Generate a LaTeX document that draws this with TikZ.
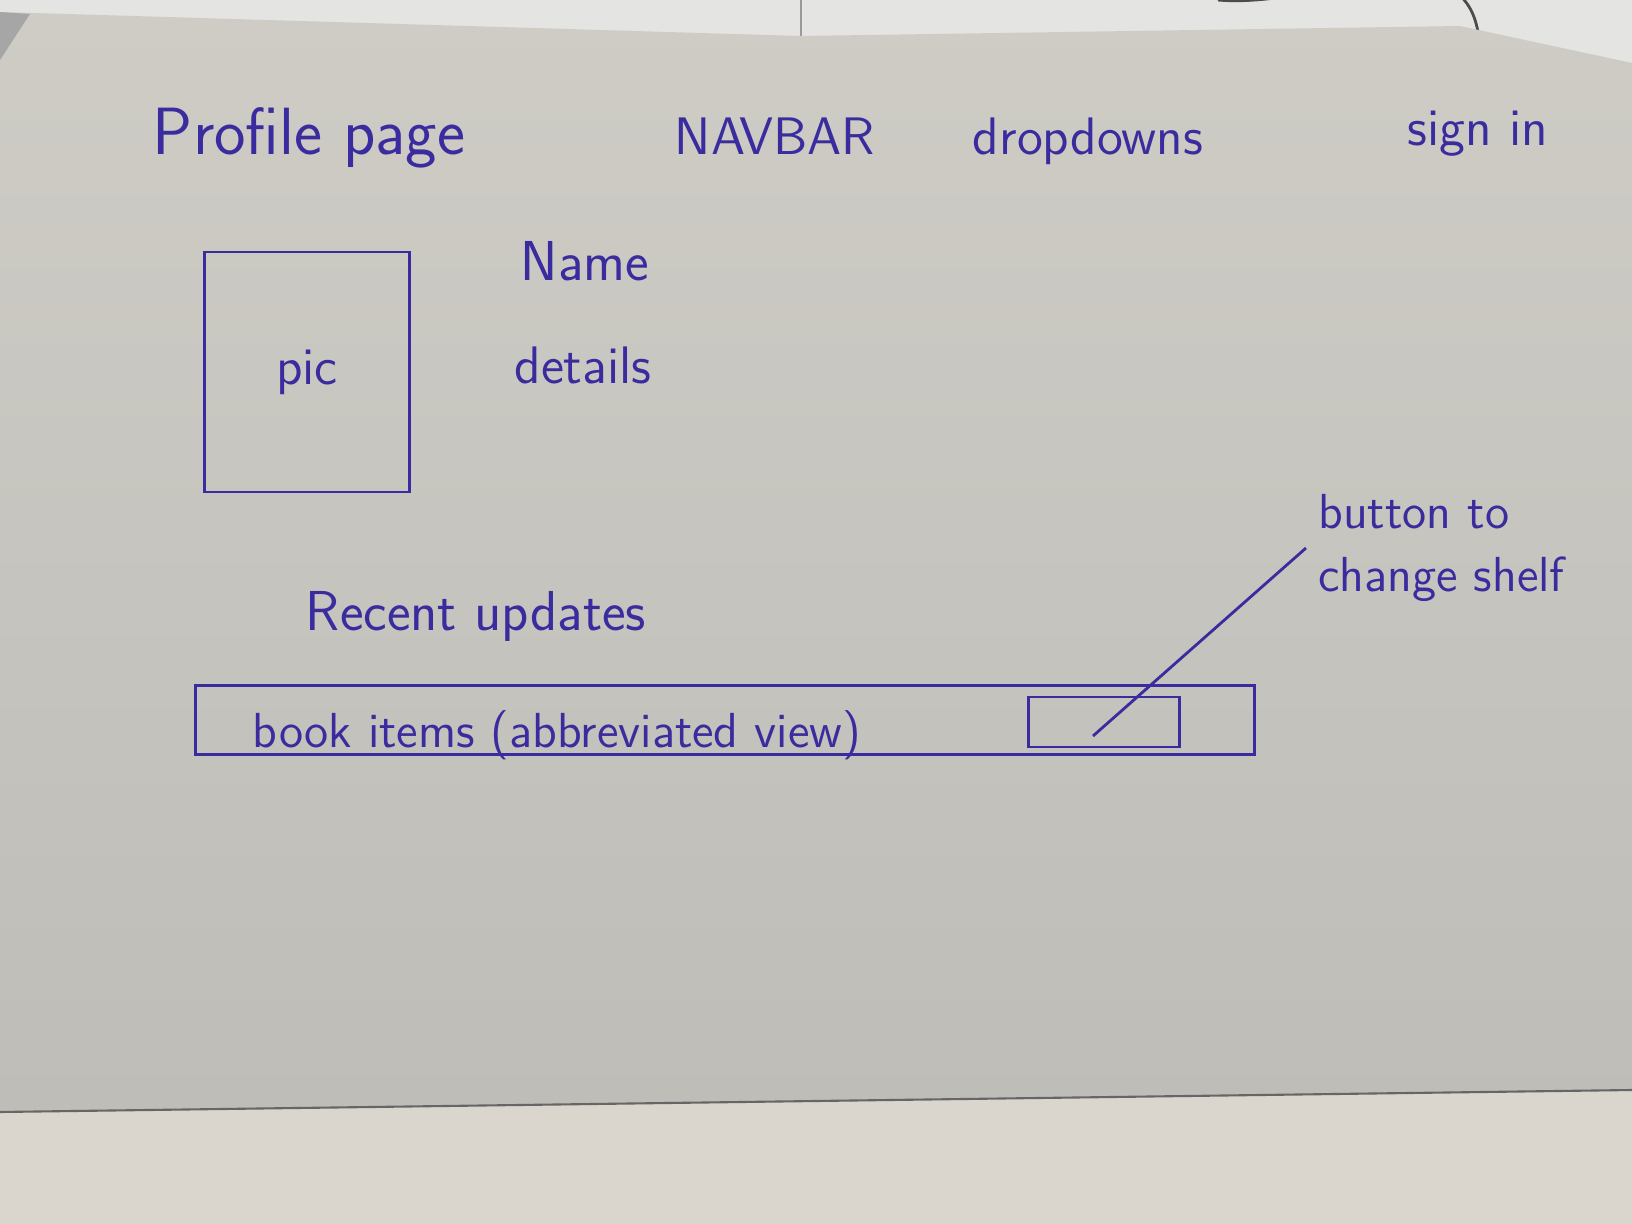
\documentclass[tikz,border=0pt]{standalone}
\usetikzlibrary{positioning}
\definecolor{ink}{RGB}{58,44,158}
\definecolor{paper}{RGB}{206,204,197}
\definecolor{paperlow}{RGB}{190,189,184}
\definecolor{desk}{RGB}{218,214,206}
\definecolor{wall}{RGB}{228,228,226}
\begin{document}
\begin{tikzpicture}[x=0.01cm,y=-0.01cm,
  hand/.style={text=ink,font=\sffamily\fontsize{15}{18}\selectfont},
  sketch/.style={draw=ink,line width=0.8pt}]
\useasboundingbox (0,0) rectangle (1632,1224);
% sheet on the desk
\fill[wall] (0,0) rectangle (1632,1224);
\draw[black!40] (801,0) -- (801,36);
\draw[black!70,line width=0.8pt] (1218,0) to[out=-5,in=100] (1478,32);
\shade[top color=paper,bottom color=paperlow] (0,12) -- (801,36) -- (1460,26) -- (1632,63) -- (1632,1090) -- (0,1112) -- cycle;
\fill[black!35] (0,12) -- (30,14) -- (0,60) -- cycle;
\fill[desk] (0,1112) -- (1632,1090) -- (1632,1224) -- (0,1224) -- cycle;
\draw[black!60,line width=0.6pt] (0,1112) -- (1632,1090);
% header
\node[hand,font=\sffamily\fontsize{19}{22}\selectfont,anchor=base] (title) at (309,154) {Profile page};
\node[hand,anchor=base] (navbar) at (775,154) {NAVBAR};
\node[hand,anchor=base] (drop) at (1088,154) {dropdowns};
\node[hand,anchor=base] (signin) at (1478,146) {sign in};
% profile block
\node[sketch,hand,minimum width=2.05cm,minimum height=2.4cm] (pic) at (307,372) {pic};
\node[hand,font=\sffamily\fontsize{16}{18}\selectfont,anchor=base] (name) at (585,281) {Name};
\node[hand,anchor=base] (details) at (583,383) {details};
% updates
\node[hand,font=\sffamily\fontsize{16}{18}\selectfont,anchor=base] (recent) at (476,630) {Recent updates};
\node[sketch,minimum width=10.58cm,minimum height=0.69cm] (bar) at (725,720) {};
\node[hand,font=\sffamily\fontsize{14}{17}\selectfont,anchor=base] (items) at (557,747) {book items (abbreviated view)};
\node[sketch,minimum width=1.51cm,minimum height=0.5cm] (btn) at (1104,722) {};
\node[hand,font=\sffamily\fontsize{14}{18}\selectfont,align=left,anchor=west] (note) at (1306,548) {button to\\change shelf};
\coordinate (tip) at (1093,736);
\draw[sketch] (note.west) -- (tip);
\end{tikzpicture}
\end{document}
